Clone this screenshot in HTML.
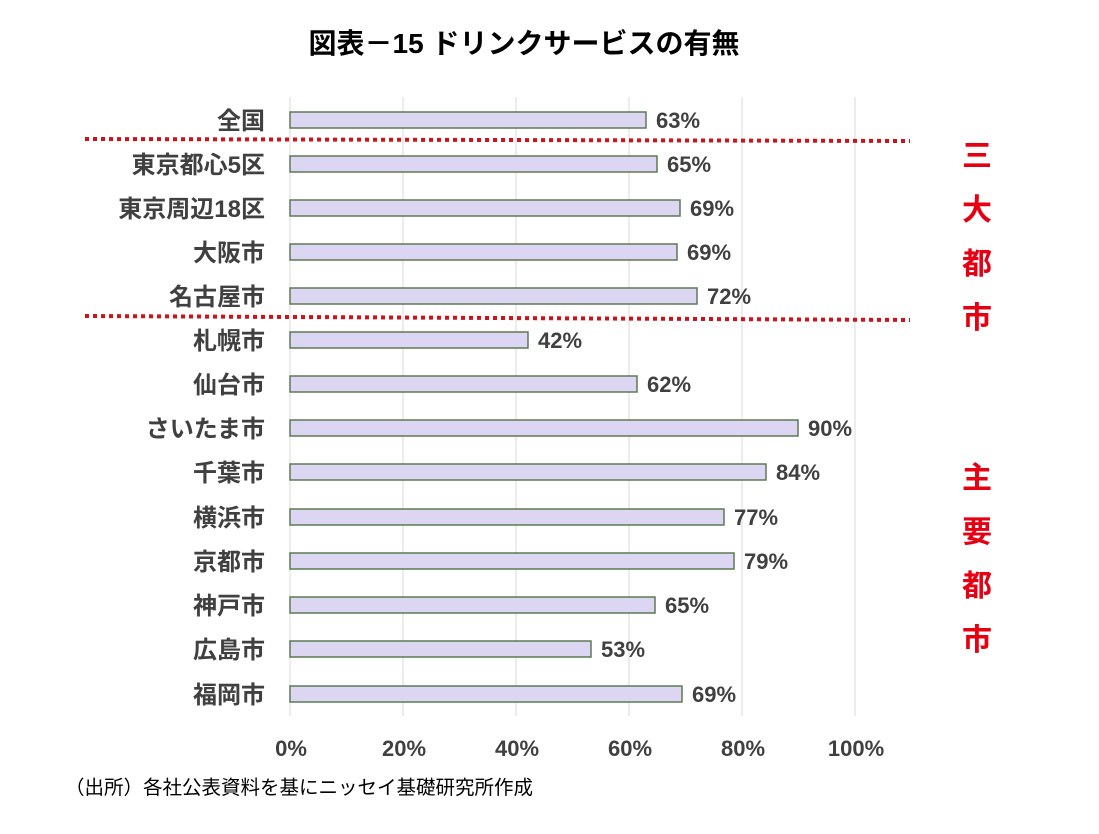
<!DOCTYPE html>
<html><head><meta charset="utf-8"><style>
body{margin:0;background:#fff}
svg text{font-family:"Liberation Sans","Noto Sans CJK JP",sans-serif}
</style></head><body>
<svg width="1099" height="829" xmlns="http://www.w3.org/2000/svg">
<text x="524" y="53" text-anchor="middle" font-size="28" font-weight="bold" fill="#000">図表－15 ドリンクサービスの有無</text>
<g stroke="#d9d9d9" stroke-width="1">
<line x1="290" y1="97" x2="290" y2="716"/><line x1="403" y1="97" x2="403" y2="716"/><line x1="516" y1="97" x2="516" y2="716"/><line x1="629" y1="97" x2="629" y2="716"/><line x1="742" y1="97" x2="742" y2="716"/><line x1="855" y1="97" x2="855" y2="716"/>
</g>
<g font-size="22" font-weight="bold" fill="#404040">
<text x="291" y="756" text-anchor="middle">0%</text><text x="404" y="756" text-anchor="middle">20%</text><text x="517" y="756" text-anchor="middle">40%</text><text x="630" y="756" text-anchor="middle">60%</text><text x="743" y="756" text-anchor="middle">80%</text><text x="856" y="756" text-anchor="middle">100%</text>
</g>
<g fill="#dcd6f2" stroke="#5b7a52" stroke-width="1.5">
<rect x="290" y="112" width="356" height="16"/>
<rect x="290" y="156" width="367" height="16"/>
<rect x="290" y="200" width="390" height="16"/>
<rect x="290" y="244" width="387" height="16"/>
<rect x="290" y="288" width="407" height="16"/>
<rect x="290" y="332" width="238" height="16"/>
<rect x="290" y="376" width="347" height="16"/>
<rect x="290" y="420" width="508" height="16"/>
<rect x="290" y="464" width="476" height="16"/>
<rect x="290" y="509" width="434" height="16"/>
<rect x="290" y="553" width="444" height="16"/>
<rect x="290" y="597" width="365" height="16"/>
<rect x="290" y="641" width="301" height="16"/>
<rect x="290" y="686" width="392" height="16"/>
</g>
<g font-size="24" font-weight="bold" fill="#404040" text-anchor="end">
<text x="265" y="129">全国</text>
<text x="265" y="173">東京都心5区</text>
<text x="265" y="217">東京周辺18区</text>
<text x="265" y="261">大阪市</text>
<text x="265" y="305">名古屋市</text>
<text x="265" y="349">札幌市</text>
<text x="265" y="393">仙台市</text>
<text x="265" y="437">さいたま市</text>
<text x="265" y="481">千葉市</text>
<text x="265" y="526">横浜市</text>
<text x="265" y="570">京都市</text>
<text x="265" y="614">神戸市</text>
<text x="265" y="658">広島市</text>
<text x="265" y="703">福岡市</text>
</g>
<g font-size="22" font-weight="bold" fill="#404040">
<text x="656" y="128">63%</text><text x="667" y="172">65%</text><text x="690" y="216">69%</text><text x="687" y="260">69%</text><text x="707" y="304">72%</text><text x="538" y="348">42%</text><text x="647" y="392">62%</text><text x="808" y="436">90%</text><text x="776" y="480">84%</text><text x="734" y="525">77%</text><text x="744" y="569">79%</text><text x="665" y="613">65%</text><text x="601" y="657">53%</text><text x="692" y="702">69%</text>
</g>
<g stroke="#d0101a" stroke-width="4" stroke-dasharray="4 4">
<line x1="85" y1="139" x2="910" y2="141"/><line x1="85" y1="316" x2="910" y2="320"/>
</g>
<g font-size="30" font-weight="bold" fill="#e60012" text-anchor="middle">
<text x="977" y="166">三</text><text x="977" y="220">大</text><text x="977" y="274">都</text><text x="977" y="328">市</text>
<text x="977" y="488">主</text><text x="977" y="542">要</text><text x="977" y="596">都</text><text x="977" y="650">市</text>
</g>
<text x="65" y="794" font-size="19.5" fill="#000">（出所）各社公表資料を基にニッセイ基礎研究所作成</text>
</svg>
</body></html>
